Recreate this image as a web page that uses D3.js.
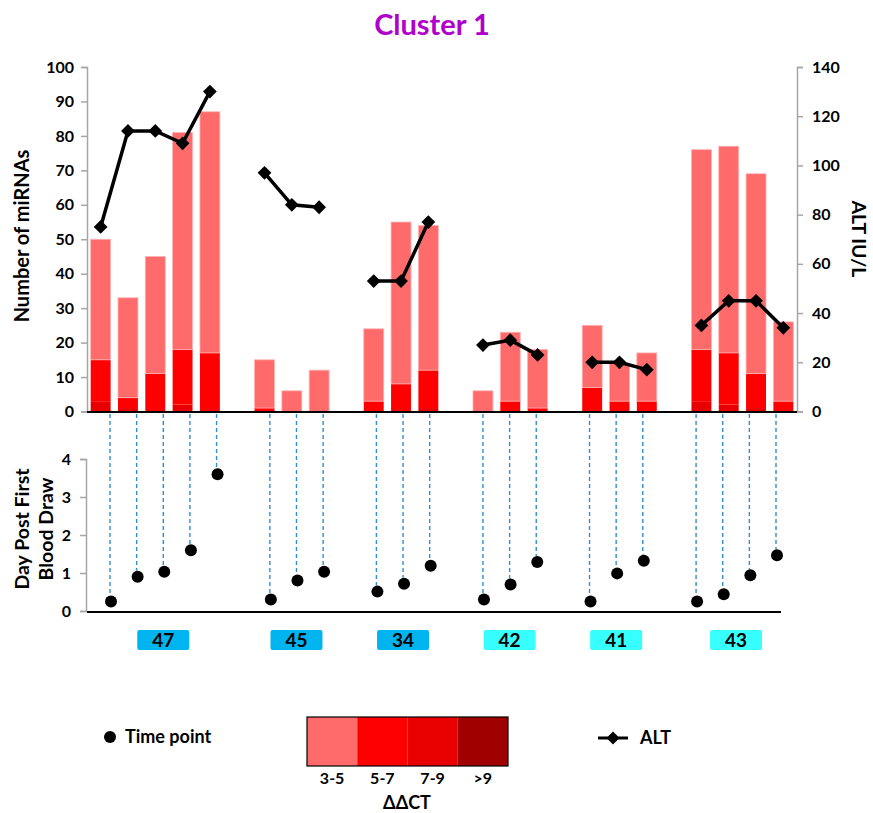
<!DOCTYPE html>
<html>
<head>
<meta charset="utf-8">
<script src="https://cdn.jsdelivr.net/npm/d3@7"></script>
<style>
  body { margin: 0; background: #fff; }
  text { font-family: Lato, "Open Sans", sans-serif; font-weight: 700; }
</style>
</head>
<body>
<svg id="chart" width="873" height="813"></svg>
<script>
// ---------- data ----------
const groups = ["47", "45", "34", "42", "41", "43"];
const sampleGroup = ["47","47","47","47","47","45","45","45","34","34","34","42","42","42","41","41","41","43","43","43","43"];
const ddct3to5 = [35, 29, 34, 63, 70, 14, 6, 12, 21, 47, 42, 6, 20, 17, 18, 11, 14, 58, 60, 58, 23];
const ddct5to7 = [12, 3, 11, 16, 17, 1, 0, 0, 3, 8, 11, 0, 3, 1, 7, 3, 3, 15, 15, 10, 3];
const ddct7to9 = [3, 1, 0, 2, 0, 0, 0, 0, 0, 0, 1, 0, 0, 0, 0, 0, 0, 3, 2, 1, 0];
const ddctOver9 = [0, 0, 0, 0, 0, 0, 0, 0, 0, 0, 0, 0, 0, 0, 0, 0, 0, 0, 0, 0, 0];
const altValues = [75, 114, 114, 109, 130, 97, 84, 83, 53, 53, 77, 27, 29, 23, 20, 20, 17, 35, 45, 45, 34];
const dayValues = [0.25, 0.9, 1.03, 1.6, 3.6, 0.3, 0.8, 1.03, 0.51, 0.72, 1.19, 0.3, 0.7, 1.29, 0.25, 0.99, 1.32, 0.25, 0.44, 0.94, 1.47];
const leftTicks = [0, 10, 20, 30, 40, 50, 60, 70, 80, 90, 100];
const rightTicks = [0, 20, 40, 60, 80, 100, 120, 140];
const dayTicks = [0, 1, 2, 3, 4];
const ddctLabels = ["3-5", "5-7", "7-9", ">9"];
const ddctColors = ["#FF6B6B", "#FF0000", "#E80000", "#A00000"];

// ---------- slot assignment (one empty slot between groups) ----------
const slotOf = [];
let slot = 0;
sampleGroup.forEach((g, i) => {
  if (i > 0 && g !== sampleGroup[i - 1]) slot++;
  slotOf.push(slot);
  slot++;
});
const nSlots = slot;

const samples = sampleGroup.map((g, i) => ({
  i, group: g, slot: slotOf[i],
  segs: [ddct3to5[i], ddct5to7[i], ddct7to9[i], ddctOver9[i]],
  alt: altValues[i], day: dayValues[i]
}));

const svg = d3.select("#chart");

// ---------- scales ----------
const xTop = d3.scaleBand().domain(d3.range(nSlots)).range([87, 797]).paddingInner(0.27).paddingOuter(0.135);
const yLeft = d3.scaleLinear().domain([0, 100]).range([411.5, 67]);
const yRight = d3.scaleLinear().domain([0, 140]).range([411.5, 67]);
const xBot = d3.scalePoint().domain(d3.range(nSlots)).range([110, 776]);
const yDay = d3.scaleLinear().domain([0, 4]).range([611, 459]);

// ---------- title ----------
svg.append("text").attr("x", 432).attr("y", 35).attr("text-anchor", "middle")
  .attr("font-size", 29).attr("fill", "#B000CC").text("Cluster 1");

// ---------- bars (stacked: >9 bottom, then 7-9, 5-7, 3-5 on top) ----------
const barG = svg.append("g");
samples.forEach(s => {
  let base = 0;
  [3, 2, 1, 0].forEach(k => {
    const v = s.segs[k];
    if (v <= 0) return;
    barG.append("rect")
      .attr("x", xTop(s.slot))
      .attr("width", xTop.bandwidth())
      .attr("y", yLeft(base + v))
      .attr("height", yLeft(base) - yLeft(base + v))
      .attr("fill", ddctColors[k])
      .attr("stroke", k === 0 ? "#FFB3B3" : "none")
      .attr("stroke-width", 0.8);
    base += v;
  });
});

// ---------- axes top ----------
function styleAxis(a) {
  a.select(".domain").attr("stroke", "#A6A6A6").attr("stroke-width", 1.5);
  a.selectAll(".tick line").attr("stroke", "#A6A6A6").attr("stroke-width", 1.5);
  a.selectAll(".tick text").attr("font-size", 16).attr("fill", "#000")
    .style("font-family", "Lato, sans-serif").style("font-weight", 700);
}
const axL = svg.append("g").attr("transform", "translate(87,0)")
  .call(d3.axisLeft(yLeft).tickValues(leftTicks).tickSize(6).tickPadding(7));
const axR = svg.append("g").attr("transform", "translate(797,0)")
  .call(d3.axisRight(yRight).tickValues(rightTicks).tickSize(6).tickPadding(9));
styleAxis(axL); styleAxis(axR);
svg.append("line").attr("x1", 87).attr("x2", 797).attr("y1", 412).attr("y2", 412)
  .attr("stroke", "#000").attr("stroke-width", 2);

// axis titles
svg.append("text").attr("transform", "translate(29,236) rotate(-90)").attr("text-anchor", "middle")
  .attr("font-size", 20).text("Number of miRNAs");
svg.append("text").attr("transform", "translate(852,239) rotate(90)").attr("text-anchor", "middle")
  .attr("font-size", 19.5).text("ALT IU/L");

// ---------- ALT lines ----------
const line = d3.line().x(d => xTop(d.slot) + xTop.bandwidth() / 2).y(d => yRight(d.alt));
const altG = svg.append("g");
groups.forEach(g => {
  const pts = samples.filter(s => s.group === g);
  altG.append("path").datum(pts).attr("d", line)
    .attr("fill", "none").attr("stroke", "#000").attr("stroke-width", 3.5);
});
altG.selectAll("path.dia").data(samples).join("path").attr("class", "dia")
  .attr("d", d3.symbol().type(d3.symbolSquare).size(95))
  .attr("transform", d => `translate(${xTop(d.slot) + xTop.bandwidth() / 2},${yRight(d.alt)}) rotate(45)`)
  .attr("fill", "#000");

// ---------- bottom panel ----------
const dropG = svg.append("g");
dropG.selectAll("line").data(samples).join("line")
  .attr("x1", d => xBot(d.slot)).attr("x2", d => xBot(d.slot))
  .attr("y1", 414).attr("y2", d => yDay(d.day) - 6)
  .attr("stroke", "#2F8FD0").attr("stroke-width", 1.4).attr("stroke-dasharray", "4,3");
dropG.selectAll("circle").data(samples).join("circle")
  .attr("cx", d => xBot(d.slot) + 1).attr("cy", d => yDay(d.day)).attr("r", 6).attr("fill", "#000");

const axD = svg.append("g").attr("transform", "translate(86,0)")
  .call(d3.axisLeft(yDay).tickValues(dayTicks).tickFormat(d3.format("d")).tickSize(6).tickPadding(9));
styleAxis(axD);
svg.append("line").attr("x1", 87).attr("x2", 781).attr("y1", 612).attr("y2", 612)
  .attr("stroke", "#000").attr("stroke-width", 2);

svg.append("text").attr("transform", "translate(29,529) rotate(-90)").attr("text-anchor", "middle")
  .attr("font-size", 19.5).text("Day Post First");
svg.append("text").attr("transform", "translate(53,529) rotate(-90)").attr("text-anchor", "middle")
  .attr("font-size", 19.5).text("Blood Draw");

// group labels
groups.forEach((g, gi) => {
  const sl = samples.filter(s => s.group === g).map(s => xBot(s.slot));
  const cx = d3.mean(sl);
  svg.append("rect").attr("x", cx - 26).attr("y", 630).attr("width", 52).attr("height", 20)
    .attr("rx", 2).attr("fill", gi < 3 ? "#00B4F0" : "#38FFFF");
  svg.append("text").attr("x", cx).attr("y", 647).attr("text-anchor", "middle")
    .attr("font-size", 19).text(g);
});

// ---------- legends ----------
svg.append("circle").attr("cx", 110).attr("cy", 737).attr("r", 6).attr("fill", "#000");
svg.append("text").attr("x", 125).attr("y", 743).attr("font-size", 18).text("Time point");

const lx = d3.scaleBand().domain(ddctLabels).range([307, 508]);
svg.selectAll("rect.leg").data(ddctLabels).join("rect").attr("class", "leg")
  .attr("x", d => lx(d)).attr("width", lx.bandwidth()).attr("y", 717).attr("height", 49)
  .attr("fill", (d, i) => ddctColors[i]);
svg.append("rect").attr("x", 307).attr("y", 717).attr("width", 201).attr("height", 49)
  .attr("fill", "none").attr("stroke", "#000").attr("stroke-width", 1.2);
svg.selectAll("text.leg").data(ddctLabels).join("text").attr("class", "leg")
  .attr("x", d => lx(d) + lx.bandwidth() / 2).attr("y", 784).attr("text-anchor", "middle")
  .attr("font-size", 16).text(d => d);
svg.append("text").attr("x", 407).attr("y", 809).attr("text-anchor", "middle")
  .attr("font-size", 18).text("ΔΔCT");

svg.append("line").attr("x1", 598).attr("x2", 628).attr("y1", 738).attr("y2", 738)
  .attr("stroke", "#000").attr("stroke-width", 3);
svg.append("path").attr("d", d3.symbol().type(d3.symbolSquare).size(85))
  .attr("transform", "translate(613,738) rotate(45)").attr("fill", "#000");
svg.append("text").attr("x", 640).attr("y", 744).attr("font-size", 18).text("ALT");
</script>
</body>
</html>
